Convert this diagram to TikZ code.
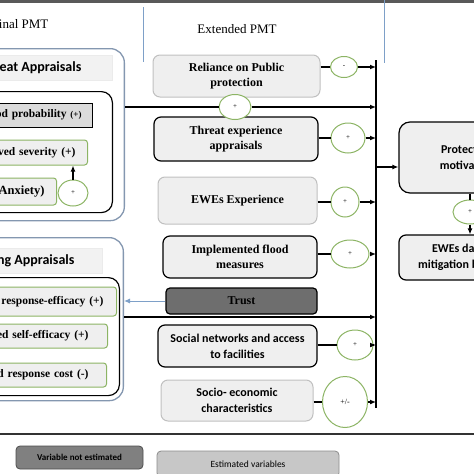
\documentclass[tikz,border=0pt]{standalone}
\usepackage{fontspec}
\setmainfont{Liberation Serif}
\setsansfont{Carlito}
\usetikzlibrary{arrows.meta, shapes.geometric}

\definecolor{grpblue}{RGB}{132,151,176}
\definecolor{signgreen}{RGB}{140,180,100}
\definecolor{boxgray}{RGB}{239,239,239}
\definecolor{edgegray}{RGB}{192,192,192}
\definecolor{trustgray}{RGB}{110,110,110}
\definecolor{lineblue}{RGB}{126,160,200}

\begin{document}
\begin{tikzpicture}[
  x = 1pt, y = -1pt,
  line width = 1.2pt,
  group/.style = {
    draw = grpblue,
    line width = 1.3pt,
    rounded corners = 14pt,
    fill = white,
    anchor = north east,
    minimum width = 200pt,
  },
  head/.style = {
    fill = black!5,
    draw = black!8,
    line width = 0.5pt,
    minimum width = 150pt,
    minimum height = 25pt,
    anchor = north east,
  },
  headtext/.style = {
    font = \fontsize{14}{16}\selectfont\sffamily\bfseries,
    anchor = east,
    inner sep = 0pt,
  },
  inner/.style = {
    draw = black,
    line width = 1.2pt,
    rounded corners = 11pt,
    minimum width = 150pt,
    anchor = north east,
  },
  appr/.style = {
    draw = signgreen,
    line width = 1pt,
    fill = boxgray,
    rounded corners = 3pt,
    anchor = east,
    text width = 200pt,
    align = right,
    inner ysep = 0pt,
    font = \fontsize{11.5}{14}\selectfont\bfseries,
  },
  probbox/.style = {
    appr,
    draw = black,
    fill = black!14,
    sharp corners,
  },
  varbox/.style = {
    draw = edgegray,
    line width = 1pt,
    fill = boxgray,
    rounded corners = 7pt,
    align = center,
    font = \fontsize{12}{15}\selectfont\bfseries,
  },
  keybox/.style = {
    varbox,
    draw = black,
    line width = 1.2pt,
  },
  sans/.style = {
    font = \fontsize{12}{16}\selectfont\sffamily\bfseries,
  },
  trustbox/.style = {
    keybox,
    fill = trustgray,
    rounded corners = 4pt,
  },
  sign/.style = {
    shape = ellipse,
    draw = signgreen,
    line width = 1pt,
    fill = white,
    inner sep = 0pt,
    font = \fontsize{7}{8}\selectfont,
  },
  legend/.style = {
    draw = black!45,
    line width = 0.8pt,
    fill = black!22,
    rounded corners = 4pt,
    font = \fontsize{9.5}{11}\selectfont\sffamily,
  },
  > = {Latex[length = 6pt, width = 5pt]}
]
  \useasboundingbox (0, 0) rectangle (474, 474);
  \clip (0, 0) rectangle (474, 474);

  % frame and titles
  \fill[black!65] (0, 0) rectangle (474, 2.5);
  \draw[black!80] (0, 434) -- (474, 434);
  \draw[lineblue, line width = 0.8pt] (143, 7) -- (143, 62);
  \draw[lineblue, line width = 0.8pt] (384, 0) -- (384, 63);
  \draw node[anchor = east, inner sep = 0pt, font = \fontsize{13}{15}\selectfont] (orig) at (49, 25) {Original PMT};
  \draw node[font = \fontsize{13}{15}\selectfont] (ext) at (237, 29) {Extended PMT};

  % threat appraisals
  \draw node[group, minimum height = 172pt] (TG) at (125, 48) {};
  \draw node[head] (TH) at (112, 55) {};
  \draw node[headtext] (TT) at (82, 67.5) {Threat Appraisals};
  \draw node[inner, minimum height = 121pt] (TI) at (113, 91) {};
  \draw node[probbox, inner xsep = 11pt, minimum height = 24pt] (T1) at (93, 115) {Flood probability {\fontsize{9}{10}\selectfont(+)}};
  \draw node[appr, inner xsep = 12pt, minimum height = 25pt] (T2) at (88, 152.5) {Perceived severity (+)};
  \draw node[appr, inner xsep = 12pt, minimum height = 27pt, font = \fontsize{12.5}{14}\selectfont\bfseries] (T3) at (57, 191.5) {Fear (Anxiety)};
  \draw node[sign, minimum width = 30pt, minimum height = 26pt] (S0) at (73, 193) {+};
  \draw[->] (S0) -- (S0 |- T2.south);

  % coping appraisals
  \draw node[group, minimum height = 163pt] (CG) at (124, 237) {};
  \draw node[head] (CH) at (102, 248) {};
  \draw node[headtext] (CT) at (75, 260.5) {Coping Appraisals};
  \draw node[inner, minimum height = 118pt] (CI) at (120, 277) {};
  \draw node[appr, inner xsep = 13pt, minimum height = 29pt] (C1) at (117, 301.5) {Perceived response-efficacy (+)};
  \draw node[appr, inner xsep = 19pt, minimum height = 24pt] (C2) at (108, 336) {Perceived self-efficacy (+)};
  \draw node[appr, inner xsep = 18pt, minimum height = 24pt] (C3) at (107, 375) {Perceived response cost (-)};

  % extended variables
  \draw node[varbox, minimum width = 167pt, minimum height = 42pt] (E1) at (236.5, 76) {Reliance on Public\\protection};
  \draw node[keybox, minimum width = 164pt, minimum height = 44pt] (E2) at (236, 139) {Threat experience\\appraisals};
  \draw node[varbox, minimum width = 159pt, minimum height = 47pt] (E3) at (237.5, 200.5) {EWEs Experience};
  \draw node[keybox, minimum width = 154pt, minimum height = 42pt] (E4) at (240, 257) {Implemented flood\\measures};
  \draw node[trustbox, minimum width = 151pt, minimum height = 26pt] (E5) at (241.5, 301) {Trust};
  \draw node[keybox, sans, minimum width = 159pt, minimum height = 42pt] (E6) at (237.5, 346) {Social networks and access\\to facilities};
  \draw node[varbox, sans, minimum width = 152pt, minimum height = 41pt] (E7) at (237, 400.5) {Socio- economic\\characteristics};

  % bus
  \coordinate (B1) at (376, 60);
  \coordinate (B2) at (376, 408);
  \coordinate (B3) at (376, 167);
  \coordinate (L2) at (124, 317);
  \draw (B1) -- (B2);

  \draw node[sign, minimum width = 27pt, minimum height = 21pt] (S1) at (344, 67) {-};
  \draw node[sign, minimum width = 32pt, minimum height = 25pt] (S2) at (235, 107) {+};
  \draw node[sign, minimum width = 34pt, minimum height = 30pt] (S3) at (348, 138) {+};
  \draw node[sign, minimum width = 28pt, minimum height = 30pt] (S4) at (345, 202) {+};
  \draw node[sign, minimum width = 38pt, minimum height = 28pt] (S5) at (350, 254) {+};
  \draw node[sign, minimum width = 36pt, minimum height = 30pt] (S6) at (355, 345) {+};
  \draw node[sign, minimum width = 45pt, minimum height = 51pt, font = \fontsize{8}{9}\selectfont] (S7) at (345, 402) {+/-};

  \draw (E1.east |- S1) -- (S1);
  \draw[->] (S1) -- (S1 -| B1);
  \draw (TG.east |- S2) -- (S2);
  \draw[->] (S2) -- (S2 -| B1);
  \draw (E2.east |- S3) -- (S3);
  \draw[->] (S3) -- (S3 -| B1);
  \draw (E3.east |- S4) -- (S4);
  \draw[->] (S4) -- (S4 -| B1);
  \draw (E4.east |- S5) -- (S5);
  \draw[->] (S5) -- (S5 -| B1);
  \draw[->] (L2) -- (L2 -| B1);
  \draw (E6.east |- S6) -- (S6);
  \draw[->] (S6) -- (S6 -| B1);
  \draw (E7.east |- S7) -- (S7);
  \draw[->] (S7) -- (S7 -| B1);
  \draw[->, lineblue, line width = 1pt] (E5) -- (E5 -| CG.east);

  % outcome
  \draw node[keybox, sans, minimum width = 136pt, minimum height = 71pt, rounded corners = 11pt] (P1) at (467, 157.5) {Protection\\motivation};
  \draw node[keybox, sans, minimum width = 136pt, minimum height = 45pt] (P2) at (467, 257.5) {EWEs damage\\mitigation behavior};
  \draw node[sign, minimum width = 34pt, minimum height = 24pt] (S8) at (470, 212) {+};
  \draw[->] (B3) -- (B3 -| P1.west);
  \draw (P1.south -| S8) -- (S8);
  \draw[->] (S8) -- (S8 |- P2.north);

  % legend
  \draw node[legend, fill = black!50, draw = black!70, minimum width = 127pt, minimum height = 23pt, font = \fontsize{9}{11}\selectfont\sffamily\bfseries] (K1) at (79.5, 457.5) {Variable not estimated};
  \draw node[legend, minimum width = 182pt, minimum height = 26pt] (K2) at (248, 464) {Estimated variables};
\end{tikzpicture}
\end{document}
